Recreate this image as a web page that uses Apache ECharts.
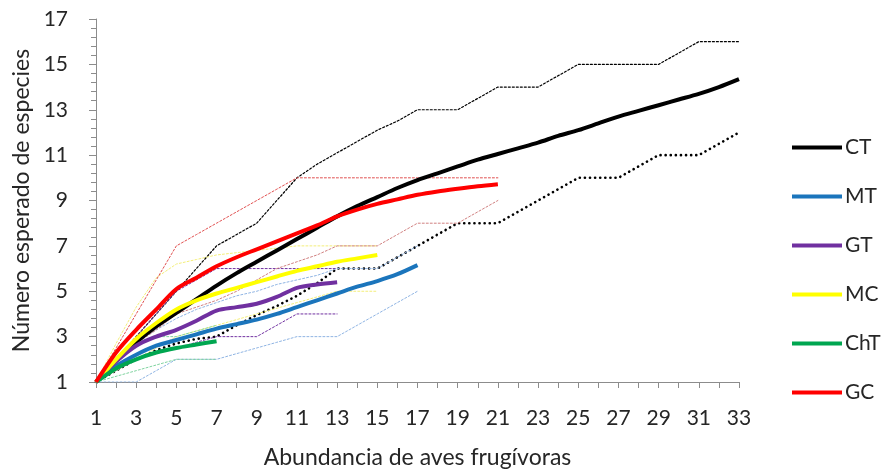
<!DOCTYPE html>
<html>
<head>
<meta charset="utf-8">
<script src="https://cdn.jsdelivr.net/npm/echarts@6/dist/echarts.min.js"></script>
<style>
  html, body { margin: 0; padding: 0; background: #fff; }
  #chart { width: 893px; height: 474px; }
</style>
</head>
<body>
<div id="chart"></div>
<script>
// Abundance of frugivorous birds (x categories)
const abundancia = ['1','2','3','4','5','6','7','8','9','10','11','12','13','14','15','16','17',
  '18','19','20','21','22','23','24','25','26','27','28','29','30','31','32','33'];

// Expected number of species per site (rarefaction curves)
const CT = [1, 1.95, 2.75, 3.45, 4.05, 4.65, 5.25, 5.8, 6.3, 6.8, 7.3, 7.8, 8.3, 8.75, 9.15, 9.55, 9.9,
  10.2, 10.5, 10.8, 11.05, 11.3, 11.55, 11.85, 12.1, 12.4, 12.7, 12.95, 13.2, 13.45, 13.7, 14.0, 14.35];
const MT = [1, 1.7, 2.2, 2.6, 2.85, 3.1, 3.35, 3.55, 3.75, 4.0, 4.3, 4.6, 4.9, 5.2, 5.45, 5.75, 6.15];
const GT = [1, 1.9, 2.6, 3.0, 3.3, 3.7, 4.15, 4.3, 4.45, 4.75, 5.15, 5.3, 5.4];
const MC = [1, 2.0, 2.9, 3.6, 4.2, 4.6, 4.9, 5.15, 5.4, 5.65, 5.9, 6.1, 6.3, 6.45, 6.6];
const ChT = [1, 1.6, 2.0, 2.3, 2.5, 2.65, 2.8];
const GC = [1, 2.3, 3.3, 4.2, 5.1, 5.6, 6.1, 6.5, 6.85, 7.2, 7.55, 7.9, 8.3, 8.6, 8.85, 9.05, 9.25,
  9.4, 9.52, 9.63, 9.72];

// 95% confidence bounds
const CT_sup = [1, 2, 3, 4, 5, 6, 7, 7.5, 8, 9, 10, 10.6, 11.1, 11.6, 12.1, 12.5, 13,
  13, 13, 13.5, 14, 14, 14, 14.5, 15, 15, 15, 15, 15, 15.5, 16, 16, 16];
const CT_inf = [1, 1.5, 2, 2.4, 2.7, 2.9, 3, 3.5, 3.95, 4.35, 4.8, 5.35, 6, 6, 6, 6.5, 7,
  7.5, 8, 8, 8, 8.5, 9, 9.5, 10, 10, 10, 10.5, 11, 11, 11, 11.5, 12];
const MT_sup = [1, 2, 2.7, 3.3, 3.8, 4.2, 4.5, 4.8, 5, 5.3, 5.5, 5.7, 6, 6, 6, 6.5, 7];
const MT_inf = [1, 1, 1, 1.5, 2, 2, 2, 2.25, 2.5, 2.75, 3, 3, 3, 3.5, 4, 4.5, 5];
const GT_sup = [1, 2, 3, 4, 5, 5.5, 6, 6, 6, 6, 6, 6, 6];
const GT_inf = [1, 1.5, 2, 2.25, 2.5, 2.75, 3, 3, 3, 3.5, 4, 4, 4];
const MC_sup = [1, 2.7, 4.3, 5.6, 6.2, 6.4, 6.6, 6.7, 6.8, 6.9, 7, 7, 7, 7, 7];
const MC_inf = [1, 1.5, 2, 2.5, 3, 3.25, 3.5, 3.75, 4, 4.25, 4.5, 4.75, 5, 5, 5];
const ChT_sup = [1, 2, 2.75, 3, 3, 3.25, 3.5];
const ChT_inf = [1, 1.25, 1.5, 1.75, 2, 2, 2];
const GC_sup = [1, 2.5, 4, 5.5, 7, 7.5, 8, 8.5, 9, 9.5, 10, 10, 10, 10, 10, 10, 10,
  10, 10, 10, 10];
const GC_inf = [1, 2, 2.7, 3.3, 4, 4.3, 4.6, 5, 5.5, 6, 6.3, 6.6, 7, 7, 7, 7.5, 8,
  8, 8, 8.5, 9];

const FONT = 'Lato, "Open Sans", sans-serif';
const TEXT = '#262626';

const main = [
  { name: 'CT', data: CT, color: '#000000' },
  { name: 'MT', data: MT, color: '#1b75bc' },
  { name: 'GT', data: GT, color: '#7030a0' },
  { name: 'MC', data: MC, color: '#ffff00' },
  { name: 'ChT', data: ChT, color: '#00a650' },
  { name: 'GC', data: GC, color: '#ff0000' }
];

const bounds = [
  { data: CT_sup, color: '#000000', width: 1.2 },
  { data: CT_inf, color: '#000000', width: 2.6 },
  { data: MT_sup, color: '#8fb4e3', width: 1 },
  { data: MT_inf, color: '#8fb4e3', width: 1 },
  { data: GT_sup, color: '#7030a0', width: 1 },
  { data: GT_inf, color: '#7030a0', width: 1 },
  { data: MC_sup, color: '#f3ee7a', width: 1 },
  { data: MC_inf, color: '#f3ee7a', width: 1 },
  { data: ChT_sup, color: '#7fd39f', width: 1 },
  { data: ChT_inf, color: '#7fd39f', width: 1 },
  { data: GC_sup, color: '#e05050', width: 1 },
  { data: GC_inf, color: '#d08080', width: 1 }
];

const series = [];
bounds.forEach(function (b) {
  series.push({
    type: 'line',
    data: b.data,
    showSymbol: false,
    silent: true,
    z: 2,
    lineStyle: { color: b.color, width: b.width, type: b.width > 2 ? [0.1, 5] : [2, 2], cap: 'round' }
  });
});
main.forEach(function (m) {
  series.push({
    name: m.name,
    type: 'line',
    data: m.data,
    smooth: 0.3,
    showSymbol: false,
    z: 3,
    itemStyle: { color: m.color },
    lineStyle: { color: m.color, width: 4 }
  });
});

const chart = echarts.init(document.getElementById('chart'), null, { renderer: 'canvas' });
chart.setOption({
  animation: false,
  backgroundColor: '#ffffff',
  grid: { left: 96, right: 154, top: 19, bottom: 88, containLabel: false },
  legend: {
    orient: 'vertical',
    left: 787,
    top: 132,
    icon: 'rect',
    itemWidth: 50,
    itemHeight: 4,
    itemGap: 28,
    data: main.map(function (m) { return m.name; }),
    textStyle: { fontFamily: FONT, fontSize: 21, color: TEXT, lineHeight: 20, padding: [0, 0, 0, -2] }
  },
  xAxis: {
    type: 'category',
    data: abundancia,
    boundaryGap: false,
    name: 'Abundancia de aves frugívoras',
    nameLocation: 'middle',
    nameGap: 64,
    nameTextStyle: { fontFamily: FONT, fontSize: 23, color: TEXT },
    axisLine: { lineStyle: { color: '#8c8c8c', width: 1 } },
    axisTick: { interval: 0, length: 6, lineStyle: { color: '#8c8c8c' } },
    axisLabel: { interval: 1, margin: 26, fontFamily: FONT, fontSize: 21, color: TEXT },
    splitLine: { show: false }
  },
  yAxis: [
    {
      type: 'value',
      min: 1,
      max: 17,
      interval: 1,
      name: 'Número esperado de especies',
      nameLocation: 'middle',
      nameGap: 62,
      nameTextStyle: { fontFamily: FONT, fontSize: 23, color: TEXT },
      axisLine: { show: true, lineStyle: { color: '#8c8c8c', width: 1 } },
      axisTick: { show: false },
      axisLabel: {
        margin: 28,
        fontFamily: FONT,
        fontSize: 21,
        color: TEXT,
        formatter: function (v) { return (v % 2 === 1) ? String(v) : ''; }
      },
      splitLine: { show: false }
    },
    {
      // tick marks only: major every 2 species, minor every 0.4
      type: 'value',
      min: 0,
      max: 16,
      interval: 2,
      position: 'left',
      axisLine: { show: false },
      axisTick: { show: true, length: 7, lineStyle: { color: '#8c8c8c' } },
      minorTick: { show: true, splitNumber: 5, length: 5, lineStyle: { color: '#8c8c8c' } },
      axisLabel: { show: false },
      splitLine: { show: false }
    }
  ],
  series: series
});
</script>
</body>
</html>
